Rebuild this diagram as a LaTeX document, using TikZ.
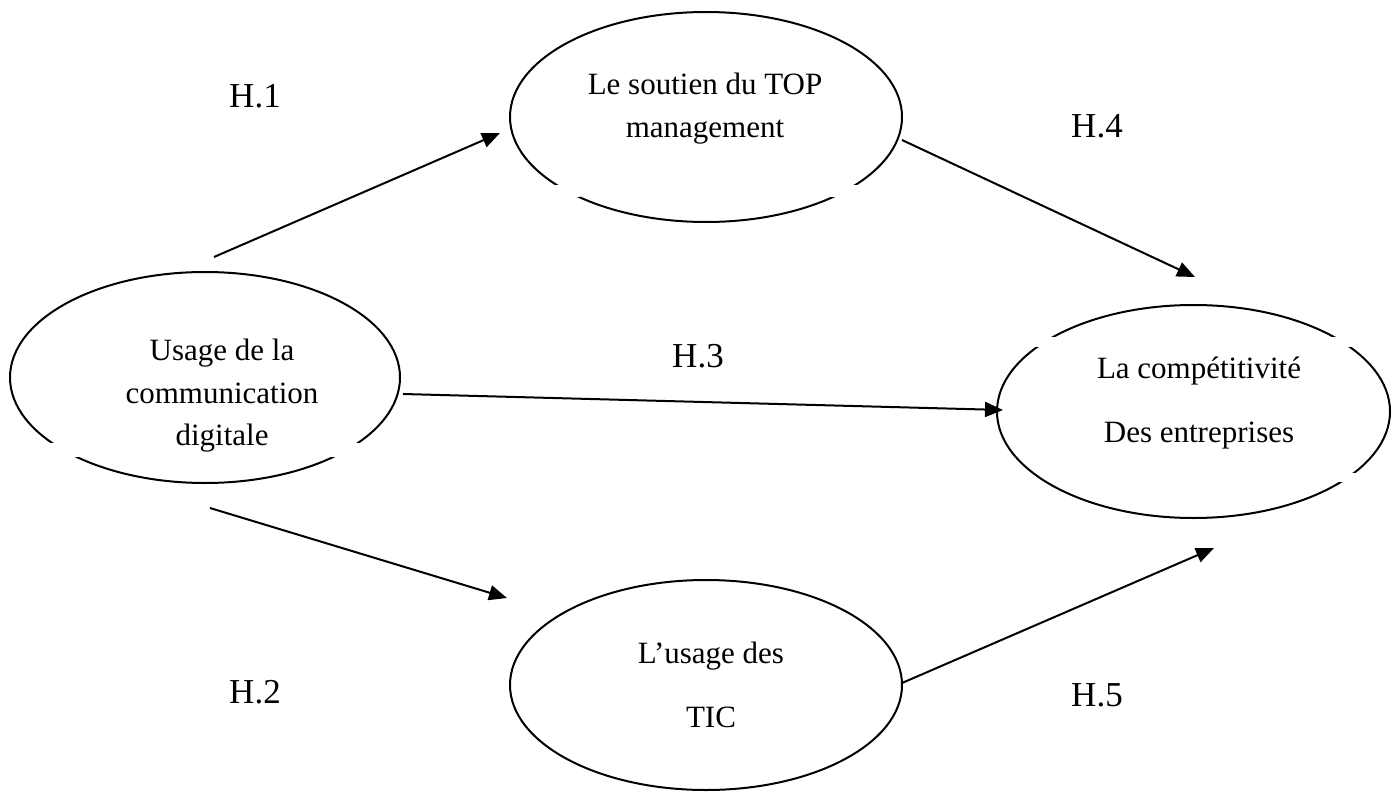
\documentclass[tikz,border=0pt]{standalone}
\usepackage{fontspec}
\setmainfont{Liberation Serif}
\usetikzlibrary{shapes.geometric,arrows.meta}
\begin{document}
\begin{tikzpicture}[x=1pt,y=-1pt,
  bubble/.style={ellipse,draw,line width=2pt,inner sep=0pt},
  gap/.style={fill=white,draw=none},
  txt/.style={anchor=base,inner sep=0pt,font=\fontsize{31}{37}\selectfont},
  hlabel/.style={anchor=base,inner sep=0pt,font=\fontsize{35}{42}\selectfont},
  link/.style={line width=2pt,-{Triangle[length=18pt,width=15pt]}}]
\useasboundingbox (0,0) rectangle (1398,792);

% the four constructs
\node[bubble,minimum width=392pt,minimum height=210pt] (top) at (706,117) {};
\node[bubble,minimum width=390pt,minimum height=211pt] (left) at (205,377.5) {};
\node[bubble,minimum width=393pt,minimum height=213pt] (right) at (1193.5,411.5) {};
\node[bubble,minimum width=392pt,minimum height=210pt] (bottom) at (706,685) {};

% breaks in the outlines
\fill[gap] (540,185) rectangle (580,197);
\fill[gap] (830,185) rectangle (870,197);
\fill[gap] (40,443) rectangle (100,457);
\fill[gap] (310,443) rectangle (375,457);
\fill[gap] (1030,337) rectangle (1065,347);
\fill[gap] (1330,337) rectangle (1370,347);
\fill[gap] (1330,473) rectangle (1375,482);

% texts
\node[txt] (topA) at (705,95) {Le soutien du TOP};
\node[txt] (topB) at (705,137) {management};
\node[txt] (leftA) at (222,360) {Usage de la};
\node[txt] (leftB) at (222,403) {communication};
\node[txt] (leftC) at (222,445) {digitale};
\node[txt] (rightA) at (1199,378) {La compétitivité};
\node[txt] (rightB) at (1199,442) {Des entreprises};
\node[txt] (botA) at (711,663) {L’usage des};
\node[txt] (botB) at (711,727) {TIC};

% hypothesis labels
\node[hlabel] (h1) at (255,107) {H.1};
\node[hlabel] (h4) at (1097,137) {H.4};
\node[hlabel] (h3) at (698,367) {H.3};
\node[hlabel] (h2) at (255,703) {H.2};
\node[hlabel] (h5) at (1097,706) {H.5};

% arrow ends
\coordinate (a1s) at (214,257);
\coordinate (a1e) at (500,133);
\coordinate (a4s) at (902,140);
\coordinate (a4e) at (1195,277);
\coordinate (a3s) at (403,394);
\coordinate (a3e) at (1003,410);
\coordinate (a2s) at (210,508);
\coordinate (a2e) at (507,598);
\coordinate (a5s) at (902,683);
\coordinate (a5e) at (1214,548);

\draw[link] (a1s) -- (a1e);
\draw[link] (a4s) -- (a4e);
\draw[link] (a3s) -- (a3e);
\draw[link] (a2s) -- (a2e);
\draw[link] (a5s) -- (a5e);
\end{tikzpicture}
\end{document}
